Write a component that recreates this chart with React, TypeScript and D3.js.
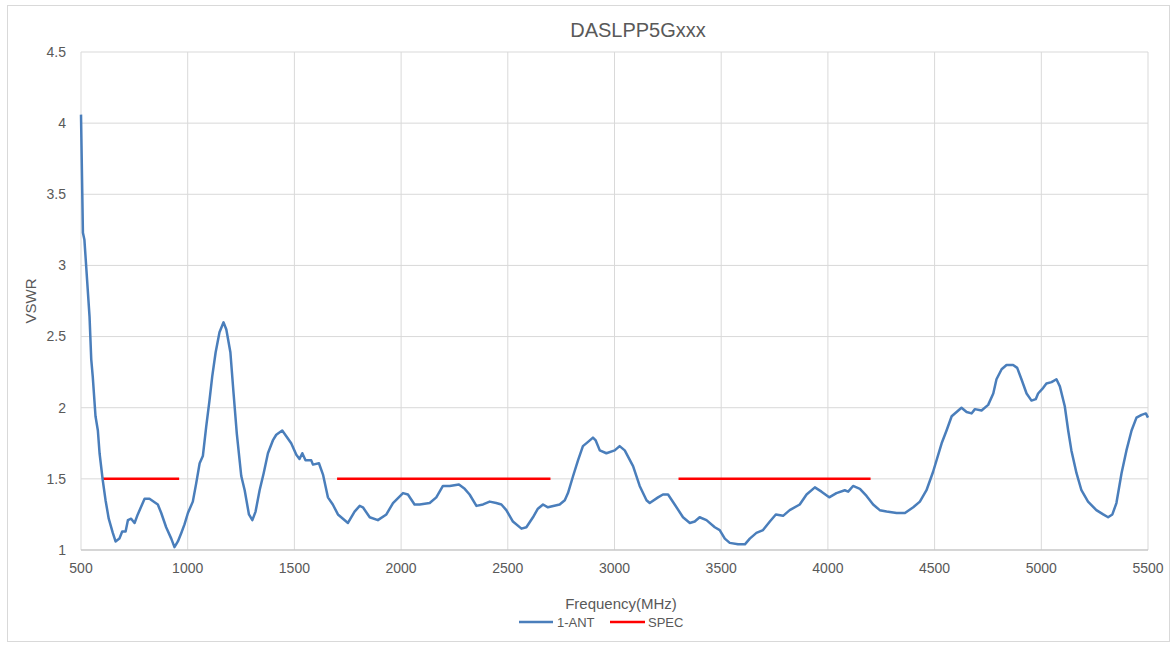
import * as d3 from "d3";

const freq = [
  500, 509, 516, 540, 548, 555, 568, 579, 587, 602, 615, 630, 649, 662, 680, 693, 709, 720, 735, 751,
  766, 798, 821, 860, 876, 899, 923, 938, 954, 970, 985, 1001, 1024, 1040, 1056, 1071, 1087, 1102, 1115, 1131,
  1149, 1168, 1181, 1200, 1215, 1230, 1251, 1267, 1287, 1303, 1318, 1337, 1356, 1376, 1399, 1415, 1443, 1462, 1485, 1509,
  1524, 1537, 1552, 1579, 1587, 1615, 1634, 1657, 1680, 1704, 1751, 1782, 1806, 1821, 1853, 1891, 1931, 1962, 2009, 2032,
  2063, 2087, 2134, 2165, 2196, 2228, 2271, 2298, 2321, 2353, 2384, 2415, 2446, 2470, 2493, 2524, 2564, 2587, 2618, 2641,
  2665, 2688, 2743, 2767, 2782, 2806, 2829, 2852, 2876, 2899, 2912, 2931, 2962, 3001, 3024, 3048, 3087, 3118, 3150, 3165,
  3204, 3227, 3251, 3282, 3321, 3353, 3376, 3399, 3431, 3470, 3493, 3517, 3540, 3579, 3611, 3634, 3665, 3696, 3728, 3756,
  3790, 3821, 3868, 3900, 3939, 3970, 4006, 4040, 4079, 4095, 4118, 4150, 4181, 4212, 4243, 4275, 4322, 4361, 4400, 4431,
  4462, 4493, 4533, 4556, 4580, 4603, 4626, 4650, 4673, 4689, 4720, 4751, 4775, 4790, 4814, 4837, 4868, 4887, 4907, 4931,
  4954, 4974, 4985, 5009, 5024, 5048, 5071, 5087, 5110, 5126, 5141, 5165, 5188, 5219, 5258, 5290, 5313, 5333, 5352, 5376,
  5399, 5423, 5446, 5470, 5490, 5500,
];

const vswr = [
  4.06, 3.23, 3.18, 2.64, 2.34, 2.22, 1.94, 1.84, 1.68, 1.49, 1.35, 1.22, 1.12, 1.06, 1.08, 1.13, 1.13, 1.21, 1.22, 1.19,
  1.25, 1.36, 1.36, 1.32, 1.26, 1.16, 1.08, 1.02, 1.06, 1.12, 1.18, 1.26, 1.34, 1.47, 1.61, 1.66, 1.87, 2.05, 2.22, 2.39,
  2.53, 2.6, 2.55, 2.39, 2.1, 1.82, 1.52, 1.42, 1.25, 1.21, 1.27, 1.42, 1.54, 1.68, 1.77, 1.81, 1.84, 1.8, 1.75, 1.67,
  1.64, 1.68, 1.63, 1.63, 1.6, 1.61, 1.53, 1.37, 1.32, 1.25, 1.19, 1.27, 1.31, 1.3, 1.23, 1.21, 1.25, 1.33, 1.4, 1.39,
  1.32, 1.32, 1.33, 1.37, 1.45, 1.45, 1.46, 1.43, 1.39, 1.31, 1.32, 1.34, 1.33, 1.32, 1.28, 1.2, 1.15, 1.16, 1.23, 1.29,
  1.32, 1.3, 1.32, 1.35, 1.4, 1.52, 1.63, 1.73, 1.76, 1.79, 1.77, 1.7, 1.68, 1.7, 1.73, 1.7, 1.59, 1.45, 1.35, 1.33,
  1.37, 1.39, 1.39, 1.32, 1.23, 1.19, 1.2, 1.23, 1.21, 1.16, 1.14, 1.08, 1.05, 1.04, 1.04, 1.08, 1.12, 1.14, 1.2, 1.25,
  1.24, 1.28, 1.32, 1.39, 1.44, 1.41, 1.37, 1.4, 1.42, 1.41, 1.45, 1.43, 1.38, 1.32, 1.28, 1.27, 1.26, 1.26, 1.3, 1.34,
  1.42, 1.55, 1.75, 1.84, 1.94, 1.97, 2.0, 1.97, 1.96, 1.99, 1.98, 2.02, 2.1, 2.2, 2.27, 2.3, 2.3, 2.28, 2.2, 2.1,
  2.05, 2.06, 2.1, 2.14, 2.17, 2.18, 2.2, 2.15, 2.01, 1.84, 1.7, 1.54, 1.42, 1.34, 1.28, 1.25, 1.23, 1.25, 1.33, 1.54,
  1.7, 1.84, 1.93, 1.95, 1.96, 1.93,
];

// spec bands: [start, end] at VSWR 1.5
const specStart = [600, 1700, 3300];
const specEnd = [960, 2700, 4200];
const specLevel = 1.5;

const xTicks = [500, 1000, 1500, 2000, 2500, 3000, 3500, 4000, 4500, 5000, 5500];
const yTicks = [1, 1.5, 2, 2.5, 3, 3.5, 4, 4.5];

const W = 1172;
const H = 645;
const left = 81;
const right = 1148;
const top = 52;
const bottom = 550;
const font = "'Liberation Sans', Arial, sans-serif";
const textColor = "#595959";

export default function App() {
  const x = d3.scaleLinear().domain([500, 5500]).range([left, right]);
  const y = d3.scaleLinear().domain([1, 4.5]).range([bottom, top]);

  const line = d3
    .line<number>()
    .x((_, i) => x(freq[i]))
    .y((d) => y(d))
    .curve(d3.curveLinear);

  return (
    <svg
      width={W}
      height={H}
      style={{ position: "absolute", left: 0, top: 0, background: "#fff" }}
      fontFamily={font}
    >
      <rect x={7.5} y={5.5} width={1162} height={636} fill="#fff" stroke="#d9d9d9" />

      {/* gridlines */}
      {yTicks.map((t) => (
        <line key={"gy" + t} x1={left} x2={right} y1={y(t)} y2={y(t)} stroke="#d9d9d9" strokeWidth={1} />
      ))}
      {xTicks.map((t) => (
        <line key={"gx" + t} x1={x(t)} x2={x(t)} y1={top} y2={bottom} stroke="#d9d9d9" strokeWidth={1} />
      ))}
      <line x1={left} x2={right} y1={bottom} y2={bottom} stroke="#bfbfbf" strokeWidth={1} />

      {/* tick labels */}
      {yTicks.map((t) => (
        <text key={"ty" + t} x={66} y={y(t)} dy="0.35em" textAnchor="end" fontSize={14} fill={textColor}>
          {t}
        </text>
      ))}
      {xTicks.map((t) => (
        <text key={"tx" + t} x={x(t)} y={573} textAnchor="middle" fontSize={14} fill={textColor}>
          {t}
        </text>
      ))}

      {/* spec lines */}
      {specStart.map((s, i) => (
        <line
          key={"spec" + i}
          x1={x(s)}
          x2={x(specEnd[i])}
          y1={y(specLevel)}
          y2={y(specLevel)}
          stroke="#ff0000"
          strokeWidth={2.5}
        />
      ))}

      {/* data line */}
      <path d={line(vswr) ?? ""} fill="none" stroke="#4a7ebb" strokeWidth={2.5} strokeLinejoin="round" />

      {/* titles */}
      <text x={638} y={37} textAnchor="middle" fontSize={20} fill={textColor}>
        DASLPP5Gxxx
      </text>
      <text
        transform={`translate(36, ${(top + bottom) / 2}) rotate(-90)`}
        textAnchor="middle"
        fontSize={15}
        fill={textColor}
      >
        VSWR
      </text>
      <text x={621} y={609} textAnchor="middle" fontSize={15} fill={textColor}>
        Frequency(MHz)
      </text>

      {/* legend */}
      <line x1={519} x2={553} y1={622} y2={622} stroke="#4a7ebb" strokeWidth={2.5} />
      <text x={557} y={627} fontSize={13} fill={textColor}>
        1-ANT
      </text>
      <line x1={610} x2={645} y1={622} y2={622} stroke="#ff0000" strokeWidth={2.5} />
      <text x={648} y={627} fontSize={13} fill={textColor}>
        SPEC
      </text>
    </svg>
  );
}
